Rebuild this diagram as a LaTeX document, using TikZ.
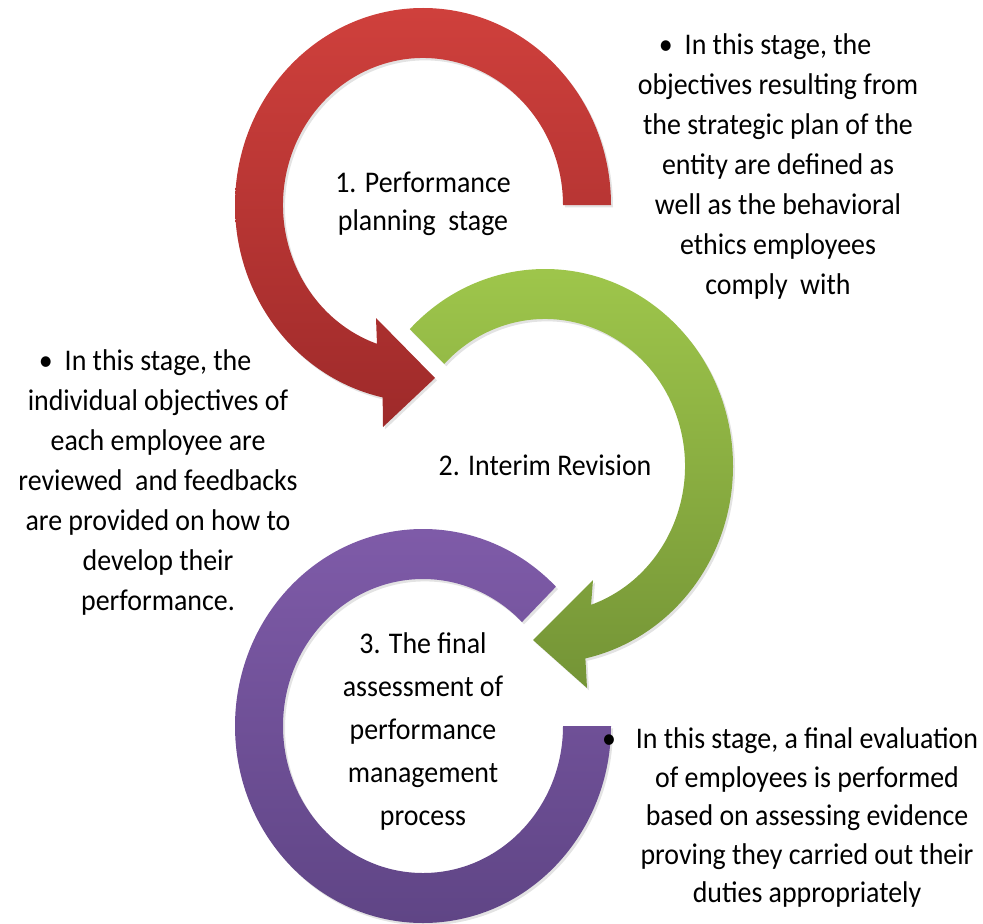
\documentclass[tikz,border=0pt]{standalone}
\usepackage{fontspec}
\setmainfont[FakeStretch=0.93]{Carlito}
\usetikzlibrary{shadows}

\definecolor{redtop}{RGB}{207,64,60}
\definecolor{redbot}{RGB}{158,42,42}
\definecolor{greentop}{RGB}{160,200,76}
\definecolor{greenbot}{RGB}{116,148,54}
\definecolor{purpletop}{RGB}{128,92,170}
\definecolor{purplebot}{RGB}{94,68,132}

\tikzset{
  band/.style={drop shadow={shadow xshift=1pt,shadow yshift=-1.2pt,opacity=0.22}},
  stagetext/.style={align=center,inner sep=0pt,text=black},
  desctext/.style={align=center,inner sep=0pt,text=black,
    font=\fontsize{15}{20}\selectfont}
}

\begin{document}
\begin{tikzpicture}[x=0.5pt,y=0.5pt] %Ciclo de gestion del desempeno
            \useasboundingbox (0,0) rectangle (983,923);

            % etapa 1
            \begin{scope}[shift={(423,718)}]
                \shade[band,top color=redtop,bottom color=redbot]
                    (0:188 and 197) arc[start angle=0,end angle=257.6,x radius=188,y radius=197]
                    -- (-40,-222) -- (12,-173) -- (-47,-113)
                    -- (250.8:140 and 147) arc[start angle=250.8,end angle=0,x radius=140,y radius=147]
                    -- cycle;
            \end{scope}

            % etapa 2
            \begin{scope}[shift={(545,457)}]
                \shade[band,top color=greentop,bottom color=greenbot]
                    (136:188 and 197) arc[start angle=136,end angle=-77.6,x radius=188,y radius=197]
                    -- (42,-222) -- (-12,-174) -- (48,-114)
                    -- (-70.8:140 and 147) arc[start angle=-70.8,end angle=136,x radius=140,y radius=147]
                    -- cycle;
            \end{scope}

            % etapa 3
            \begin{scope}[shift={(423,197)}]
                \shade[band,top color=purpletop,bottom color=purplebot]
                    (45:188 and 197) arc[start angle=45,end angle=360,x radius=188,y radius=197]
                    -- (0:140 and 147) arc[start angle=360,end angle=45,x radius=140,y radius=147]
                    -- cycle;
            \end{scope}

            \node[stagetext,font=\fontsize{15}{19}\selectfont] (stage1) at (423,719.5) {1. Performance\\planning\ \ stage};
            \node[stagetext,font=\fontsize{15}{20}\selectfont] (stage2) at (545,457.5) {2. Interim Revision};
            \node[stagetext,font=\fontsize{15}{21.5}\selectfont] (stage3) at (423,192) {3. The final\\assessment of\\performance\\management\\process};

            \node[desctext] (desc1) at (778,756.5) {\llap{\textbullet\hspace{6pt}}In this stage, the\\objectives resulting from\\the strategic plan of the\\entity are defined as\\well as the behavioral\\ethics employees\\comply\ \ with};
            \node[desctext] (desc2) at (158,440.5) {\llap{\textbullet\hspace{6pt}}In this stage, the\\individual objectives of\\each employee are\\reviewed\ \ and feedbacks\\are provided on how to\\develop their\\performance.};
            \node[desctext,font=\fontsize{15}{19.25}\selectfont] (desc3) at (807,105.5) {\llap{\textbullet\hspace{10pt}}In this stage, a final evaluation\\of employees is performed\\based on assessing evidence\\proving they carried out their\\duties appropriately};
        \end{tikzpicture}
\end{document}
